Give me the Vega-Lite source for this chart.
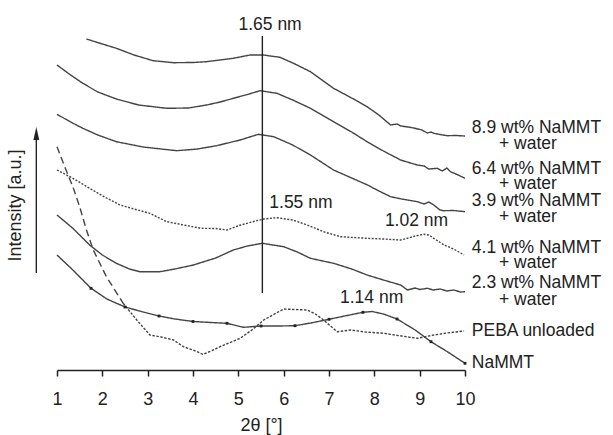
{
  "$schema": "https://vega.github.io/schema/vega-lite/v6.json",
  "width": 408,
  "height": 370,
  "autosize": "none",
  "padding": {"left": 57, "top": 0, "right": 148, "bottom": 65},
  "background": "white",
  "config": {
    "view": {"stroke": null},
    "font": "Liberation Sans",
    "text": {"font": "Liberation Sans", "fontSize": 17.5, "color": "#222"}
  },
  "datasets": {
    "curves": [
      {"s": "8.9", "x": 1.65, "y": 333}, {"s": "8.9", "x": 2.0, "y": 328}, {"s": "8.9", "x": 2.31, "y": 323.7}, {"s": "8.9", "x": 2.7, "y": 317}, {"s": "8.9", "x": 3.12, "y": 311.3}, {"s": "8.9", "x": 3.57, "y": 309.3}, {"s": "8.9", "x": 4.0, "y": 309.5}, {"s": "8.9", "x": 4.3, "y": 310.3}, {"s": "8.9", "x": 4.6, "y": 312}, {"s": "8.9", "x": 4.89, "y": 313.7}, {"s": "8.9", "x": 5.26, "y": 317}, {"s": "8.9", "x": 5.55, "y": 317}, {"s": "8.9", "x": 5.92, "y": 314.7}, {"s": "8.9", "x": 6.25, "y": 308}, {"s": "8.9", "x": 6.59, "y": 300.3}, {"s": "8.9", "x": 7.1, "y": 283.7}, {"s": "8.9", "x": 7.5, "y": 274}, {"s": "8.9", "x": 7.84, "y": 265.3}, {"s": "8.9", "x": 8.1, "y": 257}, {"s": "8.9", "x": 8.36, "y": 247}, {"s": "8.9", "x": 8.5, "y": 248}, {"s": "8.9", "x": 8.58, "y": 246}, {"s": "8.9", "x": 8.75, "y": 245}, {"s": "8.9", "x": 8.87, "y": 244}, {"s": "8.9", "x": 9.05, "y": 242}, {"s": "8.9", "x": 9.17, "y": 239}, {"s": "8.9", "x": 9.25, "y": 240}, {"s": "8.9", "x": 9.31, "y": 238.7}, {"s": "8.9", "x": 9.45, "y": 237.5}, {"s": "8.9", "x": 9.61, "y": 236.3}, {"s": "8.9", "x": 9.8, "y": 236.5}, {"s": "8.9", "x": 10.0, "y": 236},
      {"s": "6.4", "x": 1.0, "y": 307}, {"s": "6.4", "x": 1.3, "y": 297}, {"s": "6.4", "x": 1.57, "y": 288.7}, {"s": "6.4", "x": 1.9, "y": 280}, {"s": "6.4", "x": 2.31, "y": 273}, {"s": "6.4", "x": 2.8, "y": 267}, {"s": "6.4", "x": 3.42, "y": 263.7}, {"s": "6.4", "x": 3.9, "y": 264}, {"s": "6.4", "x": 4.3, "y": 267}, {"s": "6.4", "x": 4.6, "y": 270}, {"s": "6.4", "x": 4.89, "y": 273.7}, {"s": "6.4", "x": 5.2, "y": 277.5}, {"s": "6.4", "x": 5.48, "y": 281.3}, {"s": "6.4", "x": 5.85, "y": 278.7}, {"s": "6.4", "x": 6.2, "y": 272}, {"s": "6.4", "x": 6.59, "y": 263.7}, {"s": "6.4", "x": 7.1, "y": 250.3}, {"s": "6.4", "x": 7.5, "y": 240}, {"s": "6.4", "x": 7.84, "y": 230.3}, {"s": "6.4", "x": 8.2, "y": 221}, {"s": "6.4", "x": 8.58, "y": 212}, {"s": "6.4", "x": 8.8, "y": 209}, {"s": "6.4", "x": 8.95, "y": 207}, {"s": "6.4", "x": 9.1, "y": 206}, {"s": "6.4", "x": 9.2, "y": 203}, {"s": "6.4", "x": 9.39, "y": 203.7}, {"s": "6.4", "x": 9.5, "y": 201}, {"s": "6.4", "x": 9.6, "y": 204}, {"s": "6.4", "x": 9.68, "y": 200.3}, {"s": "6.4", "x": 9.85, "y": 197}, {"s": "6.4", "x": 10.0, "y": 193.7},
      {"s": "3.9", "x": 1.0, "y": 257.7}, {"s": "3.9", "x": 1.3, "y": 250}, {"s": "3.9", "x": 1.57, "y": 243.7}, {"s": "3.9", "x": 1.9, "y": 237}, {"s": "3.9", "x": 2.31, "y": 230.3}, {"s": "3.9", "x": 2.9, "y": 225}, {"s": "3.9", "x": 3.64, "y": 221.3}, {"s": "3.9", "x": 4.1, "y": 223}, {"s": "3.9", "x": 4.52, "y": 226.3}, {"s": "3.9", "x": 5.04, "y": 232}, {"s": "3.9", "x": 5.44, "y": 237.7}, {"s": "3.9", "x": 5.78, "y": 235.3}, {"s": "3.9", "x": 6.2, "y": 227}, {"s": "3.9", "x": 6.59, "y": 217}, {"s": "3.9", "x": 7.1, "y": 202}, {"s": "3.9", "x": 7.5, "y": 194}, {"s": "3.9", "x": 7.85, "y": 187}, {"s": "3.9", "x": 8.1, "y": 181}, {"s": "3.9", "x": 8.36, "y": 175.3}, {"s": "3.9", "x": 8.6, "y": 173}, {"s": "3.9", "x": 8.95, "y": 170.3}, {"s": "3.9", "x": 9.1, "y": 168}, {"s": "3.9", "x": 9.2, "y": 170}, {"s": "3.9", "x": 9.31, "y": 167}, {"s": "3.9", "x": 9.45, "y": 162}, {"s": "3.9", "x": 9.53, "y": 161.3}, {"s": "3.9", "x": 9.75, "y": 161.5}, {"s": "3.9", "x": 10.0, "y": 160.3},
      {"s": "4.1", "x": 1.0, "y": 202}, {"s": "4.1", "x": 1.35, "y": 193.7}, {"s": "4.1", "x": 1.72, "y": 183.7}, {"s": "4.1", "x": 2.05, "y": 175}, {"s": "4.1", "x": 2.39, "y": 167}, {"s": "4.1", "x": 2.7, "y": 163}, {"s": "4.1", "x": 3.05, "y": 158.7}, {"s": "4.1", "x": 3.42, "y": 150.3}, {"s": "4.1", "x": 3.8, "y": 147}, {"s": "4.1", "x": 4.17, "y": 143.7}, {"s": "4.1", "x": 4.5, "y": 143.5}, {"s": "4.1", "x": 4.75, "y": 142}, {"s": "4.1", "x": 5.05, "y": 147}, {"s": "4.1", "x": 5.3, "y": 150}, {"s": "4.1", "x": 5.56, "y": 153}, {"s": "4.1", "x": 5.85, "y": 154.3}, {"s": "4.1", "x": 6.2, "y": 152}, {"s": "4.1", "x": 6.52, "y": 147}, {"s": "4.1", "x": 6.9, "y": 140}, {"s": "4.1", "x": 7.25, "y": 135.3}, {"s": "4.1", "x": 7.84, "y": 133.7}, {"s": "4.1", "x": 8.2, "y": 133}, {"s": "4.1", "x": 8.58, "y": 132}, {"s": "4.1", "x": 8.73, "y": 133.7}, {"s": "4.1", "x": 8.9, "y": 136}, {"s": "4.1", "x": 9.09, "y": 137.7}, {"s": "4.1", "x": 9.2, "y": 137}, {"s": "4.1", "x": 9.31, "y": 133.7}, {"s": "4.1", "x": 9.54, "y": 127}, {"s": "4.1", "x": 9.75, "y": 123}, {"s": "4.1", "x": 9.98, "y": 117},
      {"s": "2.3", "x": 1.0, "y": 157}, {"s": "2.3", "x": 1.35, "y": 143.7}, {"s": "2.3", "x": 1.72, "y": 127}, {"s": "2.3", "x": 2.0, "y": 117}, {"s": "2.3", "x": 2.31, "y": 108.7}, {"s": "2.3", "x": 2.6, "y": 103}, {"s": "2.3", "x": 2.83, "y": 100.3}, {"s": "2.3", "x": 3.27, "y": 100.3}, {"s": "2.3", "x": 3.6, "y": 103}, {"s": "2.3", "x": 4.01, "y": 107}, {"s": "2.3", "x": 4.5, "y": 114}, {"s": "2.3", "x": 4.89, "y": 122}, {"s": "2.3", "x": 5.2, "y": 126}, {"s": "2.3", "x": 5.53, "y": 128.7}, {"s": "2.3", "x": 6.0, "y": 125.3}, {"s": "2.3", "x": 6.3, "y": 120}, {"s": "2.3", "x": 6.59, "y": 113.7}, {"s": "2.3", "x": 7.1, "y": 108.7}, {"s": "2.3", "x": 7.5, "y": 103}, {"s": "2.3", "x": 7.84, "y": 97}, {"s": "2.3", "x": 8.2, "y": 92}, {"s": "2.3", "x": 8.58, "y": 87}, {"s": "2.3", "x": 8.73, "y": 82}, {"s": "2.3", "x": 8.9, "y": 84}, {"s": "2.3", "x": 9.0, "y": 82.5}, {"s": "2.3", "x": 9.17, "y": 83.7}, {"s": "2.3", "x": 9.3, "y": 82}, {"s": "2.3", "x": 9.45, "y": 83}, {"s": "2.3", "x": 9.6, "y": 81}, {"s": "2.3", "x": 9.75, "y": 82}, {"s": "2.3", "x": 9.9, "y": 80}, {"s": "2.3", "x": 10.0, "y": 80.3},
      {"s": "PEBAa", "x": 1.0, "y": 225.3}, {"s": "PEBAa", "x": 1.17, "y": 205.3}, {"s": "PEBAa", "x": 1.35, "y": 185.3}, {"s": "PEBAa", "x": 1.5, "y": 165.3}, {"s": "PEBAa", "x": 1.65, "y": 142}, {"s": "PEBAa", "x": 1.8, "y": 122}, {"s": "PEBAa", "x": 2.09, "y": 95.3}, {"s": "PEBAa", "x": 2.46, "y": 68.7},
      {"s": "PEBAb", "x": 2.46, "y": 68.7}, {"s": "PEBAb", "x": 2.76, "y": 52}, {"s": "PEBAb", "x": 3.05, "y": 37}, {"s": "PEBAb", "x": 3.3, "y": 35}, {"s": "PEBAb", "x": 3.57, "y": 32}, {"s": "PEBAb", "x": 3.79, "y": 25.3}, {"s": "PEBAb", "x": 4.0, "y": 22}, {"s": "PEBAb", "x": 4.22, "y": 17.7}, {"s": "PEBAb", "x": 4.4, "y": 21}, {"s": "PEBAb", "x": 4.6, "y": 25.3}, {"s": "PEBAb", "x": 5.04, "y": 33.7}, {"s": "PEBAb", "x": 5.3, "y": 42}, {"s": "PEBAb", "x": 5.56, "y": 52}, {"s": "PEBAb", "x": 6.0, "y": 63}, {"s": "PEBAb", "x": 6.52, "y": 62}, {"s": "PEBAb", "x": 6.7, "y": 58}, {"s": "PEBAb", "x": 6.88, "y": 52}, {"s": "PEBAb", "x": 7.18, "y": 40.3}, {"s": "PEBAb", "x": 7.48, "y": 42}, {"s": "PEBAb", "x": 7.8, "y": 40}, {"s": "PEBAb", "x": 8.21, "y": 38.7}, {"s": "PEBAb", "x": 8.6, "y": 36}, {"s": "PEBAb", "x": 8.95, "y": 33.7}, {"s": "PEBAb", "x": 9.31, "y": 37}, {"s": "PEBAb", "x": 9.6, "y": 39}, {"s": "PEBAb", "x": 9.98, "y": 41},
      {"s": "NaMMT", "x": 1.0, "y": 117}, {"s": "NaMMT", "x": 1.35, "y": 102}, {"s": "NaMMT", "x": 1.75, "y": 83.7}, {"s": "NaMMT", "x": 2.1, "y": 73}, {"s": "NaMMT", "x": 2.5, "y": 65}, {"s": "NaMMT", "x": 2.9, "y": 60}, {"s": "NaMMT", "x": 3.25, "y": 56}, {"s": "NaMMT", "x": 3.6, "y": 53}, {"s": "NaMMT", "x": 4.0, "y": 50.5}, {"s": "NaMMT", "x": 4.4, "y": 49.5}, {"s": "NaMMT", "x": 4.75, "y": 48.7}, {"s": "NaMMT", "x": 5.11, "y": 44.7}, {"s": "NaMMT", "x": 5.5, "y": 46}, {"s": "NaMMT", "x": 5.9, "y": 46}, {"s": "NaMMT", "x": 6.25, "y": 46.3}, {"s": "NaMMT", "x": 6.6, "y": 49}, {"s": "NaMMT", "x": 7.0, "y": 52.7}, {"s": "NaMMT", "x": 7.4, "y": 56.5}, {"s": "NaMMT", "x": 7.75, "y": 59.7}, {"s": "NaMMT", "x": 7.95, "y": 60.5}, {"s": "NaMMT", "x": 8.2, "y": 58}, {"s": "NaMMT", "x": 8.5, "y": 53}, {"s": "NaMMT", "x": 8.9, "y": 42}, {"s": "NaMMT", "x": 9.25, "y": 30.3}, {"s": "NaMMT", "x": 9.61, "y": 20.3}, {"s": "NaMMT", "x": 10.0, "y": 8.7}
    ],
    "markers": [
      {"x": 1.75, "y": 83.7}, {"x": 2.5, "y": 65}, {"x": 3.25, "y": 56}, {"x": 4.0, "y": 50.5}, {"x": 4.75, "y": 48.7}, {"x": 5.5, "y": 46}, {"x": 6.25, "y": 46.3}, {"x": 7.0, "y": 52.7}, {"x": 7.75, "y": 59.7}, {"x": 8.5, "y": 53}, {"x": 9.25, "y": 30.3}, {"x": 10.0, "y": 8.7}
    ],
    "annotations": [
      {"x": 5.7, "y": 347, "t": "1.65 nm"},
      {"x": 6.38, "y": 169.3, "t": "1.55 nm"},
      {"x": 8.93, "y": 151, "t": "1.02 nm"},
      {"x": 7.94, "y": 73.7, "t": "1.14 nm"}
    ],
    "labels": [
      {"x": 10.15, "y": 244.5, "t": "8.9 wt% NaMMT"}, {"x": 10.75, "y": 228.5, "t": "+ water"},
      {"x": 10.15, "y": 203.5, "t": "6.4 wt% NaMMT"}, {"x": 10.75, "y": 188.5, "t": "+ water"},
      {"x": 10.15, "y": 171, "t": "3.9 wt% NaMMT"}, {"x": 10.75, "y": 155, "t": "+ water"},
      {"x": 10.15, "y": 124.5, "t": "4.1 wt% NaMMT"}, {"x": 10.75, "y": 109, "t": "+ water"},
      {"x": 10.15, "y": 89, "t": "2.3 wt% NaMMT"}, {"x": 10.75, "y": 72.5, "t": "+ water"},
      {"x": 10.15, "y": 41, "t": "PEBA unloaded"},
      {"x": 10.15, "y": 8.7, "t": "NaMMT"}
    ]
  },
  "encoding": {
    "x": {
      "field": "x", "type": "quantitative",
      "scale": {"domain": [1, 10], "nice": false, "zero": false},
      "axis": {
        "title": "2θ [°]",
        "values": [1, 1.5, 2, 2.5, 3, 3.5, 4, 4.5, 5, 5.5, 6, 6.5, 7, 7.5, 8, 8.5, 9, 9.5, 10],
        "format": "d",
        "labelExpr": "datum.value % 1 === 0 ? datum.label : ''",
        "tickSize": {"condition": {"test": "datum.value % 1 === 0", "value": 6}, "value": 3},
        "tickColor": "#222", "tickWidth": 1.5,
        "domainColor": "#222", "domainWidth": 1.5,
        "grid": false,
        "labelFont": "Liberation Sans", "labelFontSize": 18, "labelColor": "#222", "labelPadding": 14, "labelFlush": false,
        "titleFont": "Liberation Sans", "titleFontSize": 18, "titleFontWeight": "normal", "titleColor": "#222", "titlePadding": 8
      }
    },
    "y": {
      "field": "y", "type": "quantitative",
      "scale": {"domain": [2, 372], "nice": false, "zero": false},
      "axis": {
        "title": "Intensity [a.u.]",
        "domain": false, "ticks": false, "labels": false, "grid": false,
        "titleX": -42, "titleY": 205, "titleAngle": -90, "titleBaseline": "middle", "titleAlign": "center",
        "titleFont": "Liberation Sans", "titleFontSize": 18, "titleFontWeight": "normal", "titleColor": "#222"
      }
    }
  },
  "layer": [
    {
      "data": {"name": "curves"},
      "mark": {"type": "line", "strokeWidth": 1.4, "color": "#444", "clip": false},
      "encoding": {
        "detail": {"field": "s", "type": "nominal"},
        "strokeDash": {
          "field": "s", "type": "nominal", "legend": null,
          "scale": {
            "domain": ["8.9", "6.4", "3.9", "4.1", "2.3", "PEBAa", "PEBAb", "NaMMT"],
            "range": [[1, 0], [1, 0], [1, 0], [2, 1.5], [1, 0], [7, 4], [2.5, 1.5], [1, 0]]
          }
        }
      }
    },
    {
      "data": {"name": "markers"},
      "mark": {"type": "point", "shape": "square", "filled": true, "size": 8, "color": "#222", "opacity": 1}
    },
    {
      "data": {"values": [{"x": 5.53, "y": 79, "y2": 336}]},
      "mark": {"type": "rule", "color": "#222", "strokeWidth": 1.4},
      "encoding": {"y2": {"field": "y2"}}
    },
    {
      "data": {"values": [{"x": 0.544, "y": 99, "y2": 232}]},
      "mark": {"type": "rule", "color": "#222", "strokeWidth": 1.4, "clip": false},
      "encoding": {"y2": {"field": "y2"}}
    },
    {
      "data": {"values": [{"x": 0.544, "y": 238.5}]},
      "mark": {"type": "point", "shape": "M-0.45,1L0,-1L0.45,1Z", "size": 169, "filled": true, "color": "#222", "opacity": 1, "clip": false}
    },
    {
      "data": {"name": "annotations"},
      "mark": {"type": "text", "align": "center", "baseline": "middle", "fontSize": 17.5, "color": "#222"},
      "encoding": {"text": {"field": "t"}}
    },
    {
      "data": {"name": "labels"},
      "mark": {"type": "text", "align": "left", "baseline": "middle", "fontSize": 17.5, "color": "#222", "clip": false},
      "encoding": {"text": {"field": "t"}}
    }
  ]
}
